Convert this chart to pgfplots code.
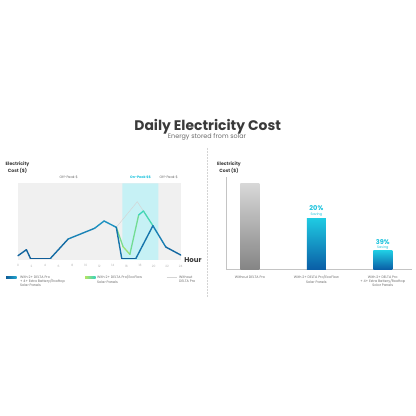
\documentclass[border=0pt]{standalone}
\usepackage{pgfplots}
\pgfplotsset{compat=1.18}
\usepackage{fontspec}
\setmainfont{Poppins}

\definecolor{txt}{HTML}{3A3A3A}
\definecolor{lbl}{HTML}{6A6A6A}
\definecolor{tk}{HTML}{B0B0B0}
\definecolor{bgg}{HTML}{F0F0F0}
\definecolor{band}{HTML}{C6F1F5}
\definecolor{cyanT}{HTML}{1CC3DD}
\definecolor{darkB}{HTML}{0F5E98}
\definecolor{midB}{HTML}{22A6D0}
\definecolor{lgreen}{HTML}{B4E464}
\definecolor{tgreen}{HTML}{34D2BE}
\definecolor{gline}{HTML}{D4D4D4}
\definecolor{axisg}{HTML}{C4C4C4}
\definecolor{grayT}{HTML}{D8D8D8}
\definecolor{grayB}{HTML}{858585}
\definecolor{barT}{HTML}{1FCAE2}
\definecolor{barB}{HTML}{0A5EA6}

\begin{document}
\begin{tikzpicture}[x=1bp,y=1bp]
\path[use as bounding box, fill=white] (0,0) rectangle (416,416);

% heading
\node[anchor=base, text=txt, inner sep=0pt, font=\fontsize{13.9bp}{16bp}\selectfont\bfseries] at (207.7,286) {Daily Electricity Cost};
\node[anchor=base, text=lbl, inner sep=0pt, font=\fontsize{6.4bp}{8bp}\selectfont] at (207,277.6) {Energy stored from solar};

% separator
\draw[gline, densely dotted, line width=0.5bp] (207.7,268) -- (207.7,119.3);

% ---- left: hourly cost
\begin{axis}[at={(18bp,156bp)}, anchor=south west, scale only axis,
  width=162.7bp, height=76.7bp,
  xmin=0, xmax=24, ymin=0, ymax=76.7,
  axis line style={draw=none}, major tick length=0pt,
  xtick={0,2,...,24}, ytick=\empty,
  xticklabel style={font=\fontsize{3bp}{3.6bp}\selectfont, text=tk, inner sep=0pt, yshift=-4.6bp},
  /pgf/number format/assume math mode=true,
  axis background/.style={fill=bgg},
  clip=false,
  colormap={greencm}{rgb255(0cm)=(180,228,100); rgb255(1cm)=(50,212,192)},
  colormap={darkcm}{rgb255(0cm)=(15,90,150); rgb255(1cm)=(36,168,210)}]
  \addplot[draw=none, fill=band] coordinates {(15.4,0) (15.4,76.7) (20.7,76.7) (20.7,0)} \closedcycle;
  \addplot[gline, line width=0.5bp] coordinates {(14.5,32.7) (17.6,58.3) (19.9,34.3)};
  \addplot[mesh, colormap name=greencm, point meta=y, point meta min=5, point meta max=50,
    line width=1.3bp, line join=round, line cap=round]
    coordinates {(14.5,32.7) (15.5,13.3) (16.5,5.7) (17.8,45) (18.5,49) (19.9,34.3)};
  \addplot[mesh, colormap name=darkcm, point meta=y, point meta min=0, point meta max=40,
    line width=1.4bp, line join=round, line cap=round]
    coordinates {(0,4.3) (1.24,10.3) (1.83,1.7) (4.8,1.7) (7.4,21) (11.3,31.7) (12.7,39)
      (14.5,32.7) (15.3,1.7) (17.4,1.7) (19.9,34.3) (21.8,13) (24,5)};
\end{axis}

\node[align=center, text=txt, inner sep=0pt, font=\fontsize{4.6bp}{6.7bp}\selectfont\bfseries] at (17.5,248.7) {Electricity\\Cost (\$)};
\node[text=lbl, inner sep=0pt, font=\fontsize{3.4bp}{4bp}\selectfont] at (68.7,238.7) {Off-Peak \$};
\node[text=cyanT, inner sep=0pt, font=\fontsize{3.4bp}{4bp}\selectfont\bfseries] at (140.5,238.7) {On-Peak \$\$};
\node[text=lbl, inner sep=0pt, font=\fontsize{3.4bp}{4bp}\selectfont] at (168.7,238.7) {Off-Peak \$};
\node[text=txt, inner sep=0pt, font=\fontsize{7bp}{8bp}\selectfont\bfseries] at (193,156) {Hour};

% legend
\shade[left color=darkB, right color=midB] (6,137.9) rectangle (16.7,139.5);
\node[anchor=north west, align=left, text=lbl, inner sep=0pt, font=\fontsize{3.4bp}{4.35bp}\selectfont] at (20,140.6)
  {With 2+ DELTA Pro\\+ 4+ Extra Battery/Rooftop\\Solar Panels};
\shade[left color=lgreen, right color=tgreen] (85,137.9) rectangle (95.7,139.5);
\node[anchor=north west, align=left, text=lbl, inner sep=0pt, font=\fontsize{3.4bp}{4.35bp}\selectfont] at (97,140.6)
  {With 2+ DELTA Pro/EcoFlow\\Solar Panels};
\draw[gline, line width=0.6bp] (166.7,138.7) -- (176.7,138.7);
\node[anchor=north west, align=left, text=lbl, inner sep=0pt, font=\fontsize{3.4bp}{4.35bp}\selectfont] at (179,140.6)
  {Without\\DELTA Pro};

% ---- right: totals
\begin{axis}[at={(226bp,146.7bp)}, anchor=south west, scale only axis,
  width=186bp, height=92.6bp,
  xmin=-0.361, xmax=2.44, ymin=0, ymax=92.6,
  axis x line=bottom, axis y line=left,
  axis line style={draw=axisg, line width=0.5bp, -},
  ytick=\empty, xtick={0,1,2}, major tick length=0pt,
  xticklabels={{Without DELTA Pro},{With 2+ DELTA Pro/EcoFlow\\Solar Panels},{With 2+ DELTA Pro\\+ 4+ Extra Battery/Rooftop\\Solar Panels}},
  xticklabel style={font=\fontsize{3.4bp}{4.35bp}\selectfont, text=lbl, align=center, inner sep=0pt, yshift=-6.2bp},
  ybar, bar width=19bp, clip=false]
  \addplot[bar shift=0pt, draw=none, top color=grayT, bottom color=grayB] coordinates {(0,86)};
  \addplot[bar shift=0pt, draw=none, top color=barT, bottom color=barB] coordinates {(1,51)};
  \addplot[bar shift=0pt, draw=none, top color=barT, bottom color=barB] coordinates {(2,18.3)};
  \node[text=cyanT, inner sep=0pt, font=\fontsize{6.6bp}{8bp}\selectfont\bfseries] at (axis cs:1,61) {20\%};
  \node[text=cyanT, inner sep=0pt, font=\fontsize{3.4bp}{4bp}\selectfont] at (axis cs:1,55) {Saving};
  \node[text=cyanT, inner sep=0pt, font=\fontsize{6.6bp}{8bp}\selectfont\bfseries] at (axis cs:2,27) {39\%};
  \node[text=cyanT, inner sep=0pt, font=\fontsize{3.4bp}{4bp}\selectfont] at (axis cs:2,21.6) {Saving};
\end{axis}

\node[align=center, text=txt, inner sep=0pt, font=\fontsize{4.6bp}{6.7bp}\selectfont\bfseries] at (229,248.7) {Electricity\\Cost (\$)};
\end{tikzpicture}
\end{document}
